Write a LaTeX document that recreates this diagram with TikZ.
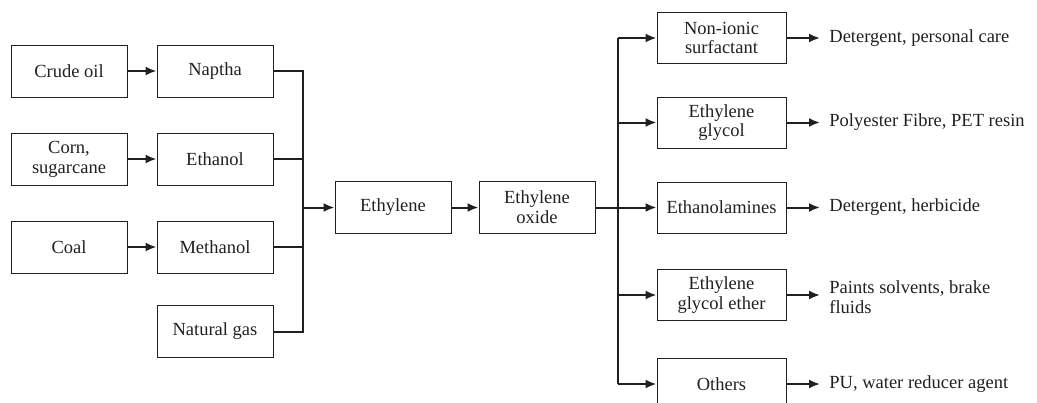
\documentclass[tikz,border=0pt]{standalone}
\usepackage{fontspec}
\setmainfont{Liberation Serif}
\usetikzlibrary{arrows.meta,positioning}
\definecolor{flink}{HTML}{231F20}

\begin{document}
\begin{tikzpicture}[x=0.5pt,y=-0.5pt,>={Latex[length=5.5pt,width=4.5pt]},
  font=\fontsize{9.25}{9.9}\selectfont,
  box/.style={draw=flink,line width=0.5pt,text=flink,align=center,
    minimum width=58pt,minimum height=26pt,inner sep=1pt},
  prodbox/.style={box,minimum width=64.5pt,minimum height=25.5pt},
  usetext/.style={text=flink,align=left,anchor=west,inner sep=0pt},
  link/.style={draw=flink,line width=1pt}]
\useasboundingbox (0,0) rectangle (1037,402);
% feedstocks
\node[box] (crude) at (69,71) {Crude oil};
\node[box] (corn) at (69,159) {Corn,\\sugarcane};
\node[box] (coal) at (69,247) {Coal};
\node[box] (naptha) at (215,71) {Naptha};
\node[box] (ethanol) at (215,159) {Ethanol};
\node[box] (methanol) at (215,247) {Methanol};
\node[box] (natgas) at (215,331.5) {Natural gas};
% main chain
\node[box] (ethylene) at (393,207.5) {Ethylene};
\node[box] (oxide) at (537,207.5) {Ethylene\\oxide};
\coordinate (lbus) at (303,207.5);
\coordinate (rbus) at (618,207.5);
% products
\node[prodbox] (nonionic) at (721.5,38) {Non-ionic\\surfactant};
\node[prodbox] (glycol) at (721.5,122.5) {Ethylene\\glycol};
\node[prodbox] (amines) at (721.5,207.5) {Ethanolamines};
\node[prodbox] (ether) at (721.5,295) {Ethylene\\glycol ether};
\node[prodbox] (others) at (721.5,384) {Others};
% end uses
\node[usetext] (use1) at (829,38) {Detergent, personal care};
\node[usetext] (use2) at (829,122.5) {Polyester Fibre, PET resin};
\node[usetext] (use3) at (829,207.5) {Detergent, herbicide};
\node[usetext] (use4) at (829,297) {Paints solvents, brake\\fluids};
\node[usetext] (use5) at (829,384) {PU, water reducer agent};

\foreach \a/\b in {crude/naptha,corn/ethanol,coal/methanol}
  \draw[link,->] (\a) -- (\b);
\draw[link] (naptha.east) -| (lbus);
\draw[link] (natgas.east) -| (lbus);
\draw[link] (ethanol.east) -- (ethanol.east -| lbus);
\draw[link] (methanol.east) -- (methanol.east -| lbus);
\draw[link,->] (lbus) -- (ethylene);
\draw[link,->] (ethylene) -- (oxide);
\draw[link] (oxide) -- (rbus);
\draw[link] (rbus |- nonionic.west) -- (rbus |- others.west);
\foreach \n in {nonionic,glycol,amines,ether,others}
  \draw[link,->] (rbus |- \n.west) -- (\n.west);
\foreach \n/\u in {nonionic/use1,glycol/use2,amines/use3,ether/use4,others/use5}
  \draw[link,->,shorten >=4.5pt] (\n.east) -- (\n.east -| \u.west);
\end{tikzpicture}
\end{document}
